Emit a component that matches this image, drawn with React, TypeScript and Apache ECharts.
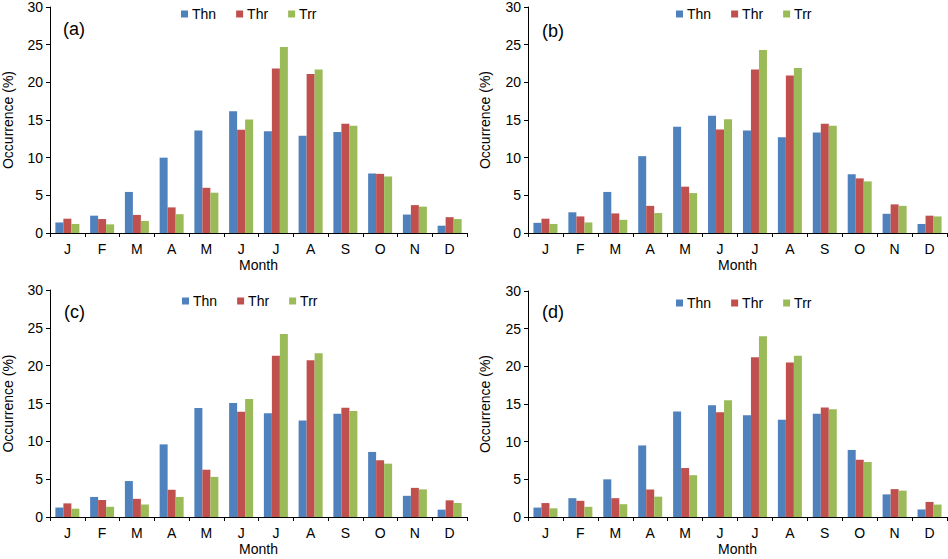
import React, { useEffect, useRef } from "react";
import * as echarts from "echarts";

const months = ["J", "F", "M", "A", "M", "J", "J", "A", "S", "O", "N", "D"];
const seriesNames = ["Thn", "Thr", "Trr"];
const panelLabels = ["(a)", "(b)", "(c)", "(d)"];
const yTicks = [0, 5, 10, 15, 20, 25, 30];

const thnA = [1.4, 2.3, 5.45, 10.0, 13.6, 16.15, 13.5, 12.9, 13.4, 7.9, 2.45, 0.97];
const thrA = [1.9, 1.85, 2.4, 3.4, 6.0, 13.7, 21.85, 21.1, 14.5, 7.85, 3.7, 2.1];
const trrA = [1.2, 1.15, 1.6, 2.5, 5.35, 15.05, 24.7, 21.7, 14.25, 7.5, 3.5, 1.85];

const thnB = [1.35, 2.75, 5.45, 10.2, 14.1, 15.55, 13.6, 12.7, 13.35, 7.8, 2.55, 1.2];
const thrB = [1.9, 2.2, 2.6, 3.6, 6.15, 13.75, 21.7, 20.9, 14.5, 7.25, 3.8, 2.3];
const trrB = [1.2, 1.4, 1.75, 2.65, 5.3, 15.1, 24.3, 21.9, 14.25, 6.85, 3.6, 2.2];

const thnC = [1.25, 2.65, 4.75, 9.6, 14.4, 15.05, 13.7, 12.75, 13.65, 8.6, 2.8, 0.97];
const thrC = [1.8, 2.25, 2.4, 3.6, 6.25, 13.9, 21.3, 20.7, 14.45, 7.5, 3.85, 2.2];
const trrC = [1.1, 1.35, 1.65, 2.65, 5.3, 15.6, 24.2, 21.65, 14.0, 7.05, 3.65, 1.85];

const thnD = [1.25, 2.5, 5.0, 9.5, 14.0, 14.85, 13.5, 12.9, 13.7, 8.9, 3.0, 1.0];
const thrD = [1.85, 2.15, 2.5, 3.65, 6.5, 13.9, 21.2, 20.5, 14.55, 7.6, 3.7, 2.0];
const trrD = [1.15, 1.35, 1.7, 2.7, 5.55, 15.5, 24.0, 21.4, 14.3, 7.3, 3.5, 1.65];

const panelData = [
  [thnA, thrA, trrA],
  [thnB, thrB, trrB],
  [thnC, thrC, trrC],
  [thnD, thrD, trrD],
];

const colors = ["#4F81BD", "#C0504D", "#9BBB59"];
const FONT = "'Liberation Sans', Arial, sans-serif";

// layout (pixels)
const grids = [
  { left: 49, top: 6, width: 418, height: 227 },
  { left: 528, top: 6, width: 419, height: 227 },
  { left: 49, top: 290, width: 418, height: 227 },
  { left: 528, top: 291, width: 419, height: 226 },
];
const legendPos = [
  { left: 181, top: 7 },
  { left: 676, top: 7 },
  { left: 182, top: 294 },
  { left: 676, top: 296 },
];
const labelPos = [
  { x: 63, y: 30 },
  { x: 542, y: 32 },
  { x: 64, y: 313 },
  { x: 542, y: 313 },
];

export default function App() {
  const ref = useRef<HTMLDivElement>(null);
  useEffect(() => {
    if (!ref.current) return;
    const chart = echarts.init(ref.current, null, { renderer: "svg" });
    const textStyle = { fontFamily: FONT, fontSize: 14, color: "#000" };
    const option: any = {
      animation: false,
      backgroundColor: "#fff",
      color: colors,
      textStyle,
      grid: grids.map((g) => ({ ...g, containLabel: false })),
      legend: legendPos.map((p) => ({
        ...p,
        orient: "horizontal",
        data: seriesNames,
        icon: "rect",
        itemWidth: 7,
        itemHeight: 7,
        itemGap: 20,
        padding: 0,
        selectedMode: false,
        textStyle: { ...textStyle, padding: [0, 0, 0, -1] },
      })),
      xAxis: grids.map((_, i) => ({
        type: "category",
        gridIndex: i,
        data: months,
        name: "Month",
        nameLocation: "middle",
        nameGap: 25,
        nameTextStyle: textStyle,
        axisLine: { show: true, lineStyle: { color: "#000", width: 1 } },
        axisTick: { show: true, length: 4, lineStyle: { color: "#000" } },
        axisLabel: { ...textStyle, margin: 9 },
        splitLine: { show: false },
      })),
      yAxis: grids.map((_, i) => ({
        type: "value",
        gridIndex: i,
        min: yTicks[0],
        max: yTicks[yTicks.length - 1],
        interval: yTicks[1] - yTicks[0],
        name: "Occurrence (%)",
        nameLocation: "middle",
        nameGap: i % 2 === 0 ? 35 : 36,
        nameTextStyle: textStyle,
        axisLine: { show: true, lineStyle: { color: "#000", width: 1 } },
        axisTick: { show: true, length: 4, lineStyle: { color: "#000" } },
        axisLabel: { ...textStyle, margin: 7 },
        splitLine: { show: false },
      })),
      series: panelData.flatMap((arrs, i) =>
        arrs.map((d, k) => ({
          type: "bar",
          name: seriesNames[k],
          xAxisIndex: i,
          yAxisIndex: i,
          data: d,
          barWidth: 8,
          barGap: "0%",
          itemStyle: { color: colors[k] },
        }))
      ),
      graphic: labelPos.map((p, i) => ({
        type: "text",
        left: p.x,
        top: p.y - 10,
        style: {
          text: panelLabels[i],
          fontFamily: FONT,
          fontSize: 18,
          fill: "#000",
        },
      })),
    };
    chart.setOption(option);
    return () => chart.dispose();
  }, []);
  return (
    <div
      ref={ref}
      style={{ position: "fixed", left: 0, top: 0, width: 948, height: 559, background: "#fff" }}
    />
  );
}
